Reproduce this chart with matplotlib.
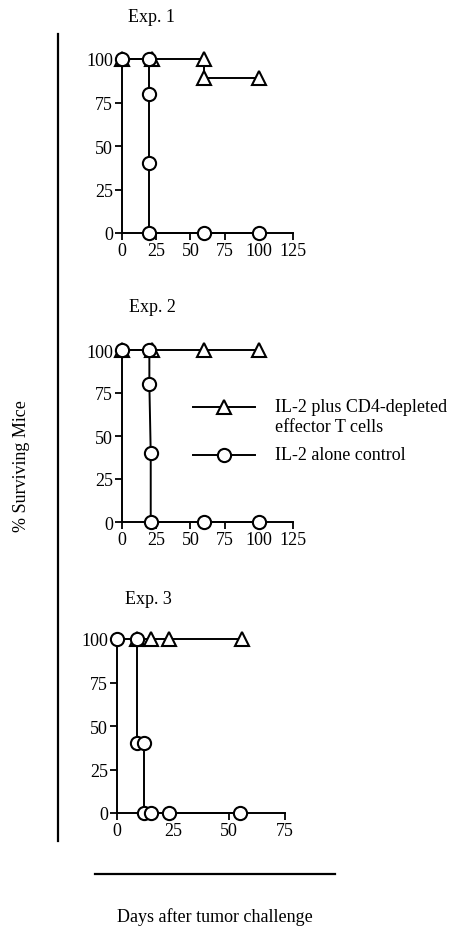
import matplotlib
matplotlib.use("Agg")
import matplotlib.pyplot as plt
from matplotlib.lines import Line2D

plt.rcParams["font.family"] = ["Liberation Serif", "DejaVu Serif"]
plt.rcParams["font.size"] = 13

# ---- data (days, % surviving) ----
exp1_tri_x = [0, 22, 60, 60, 100]
exp1_tri_y = [100, 100, 100, 89, 89]
exp1_cir_x = [0, 20, 20, 20, 20, 60, 100]
exp1_cir_y = [100, 100, 80, 40, 0, 0, 0]

exp2_tri_x = [0, 22, 60, 100]
exp2_tri_y = [100, 100, 100, 100]
exp2_cir_x = [0, 20, 20, 21, 21, 60, 100]
exp2_cir_y = [100, 100, 80, 40, 0, 0, 0]

exp3_tri_x = [9, 15, 23, 56]
exp3_tri_y = [100, 100, 100, 100]
exp3_cir_x = [0, 9, 9, 12, 12, 15, 23, 55]
exp3_cir_y = [100, 100, 40, 40, 0, 0, 0, 0]

exp1_xticks = [0, 25, 50, 75, 100, 125]
exp3_xticks = [0, 25, 50, 75]
y_ticks = [0, 25, 50, 75, 100]

W, H = 463, 928
fig = plt.figure(figsize=(W / 100, H / 100), dpi=100)


def px_axes(x0, x1, ytop, ybot):
    return fig.add_axes([x0 / W, 1 - ybot / H, (x1 - x0) / W, (ybot - ytop) / H])


mk = dict(color="black", lw=1.4, markersize=9.5, markerfacecolor="white",
          markeredgecolor="black", markeredgewidth=1.5, clip_on=False)


def panel(ax, tri, cir, xmax, xticks):
    # triangle series drawn first, circles on top
    ax.plot(tri[0], tri[1], marker="^", zorder=3, **mk)
    ax.plot(cir[0], cir[1], marker="o", zorder=4, **mk)
    ax.set_xlim(0, xmax)
    ax.set_ylim(0, 100)
    ax.set_xticks(xticks)
    ax.set_yticks(y_ticks)
    for s in ["top", "right"]:
        ax.spines[s].set_visible(False)
    for s in ["left", "bottom"]:
        ax.spines[s].set_linewidth(1.4)
    ax.tick_params(direction="out", length=5, width=1.3, labelsize=13, pad=1.5)


ax1 = px_axes(122, 293, 60, 234)
panel(ax1, (exp1_tri_x, exp1_tri_y), (exp1_cir_x, exp1_cir_y), 125, exp1_xticks)
ax2 = px_axes(122, 293, 351, 523)
panel(ax2, (exp2_tri_x, exp2_tri_y), (exp2_cir_x, exp2_cir_y), 125, exp1_xticks)
ax3 = px_axes(117, 285, 640, 814)
panel(ax3, (exp3_tri_x, exp3_tri_y), (exp3_cir_x, exp3_cir_y), 75, exp3_xticks)

# panel titles
fig.text(152 / W, 1 - 17 / H, "Exp. 1", ha="center", va="center")
fig.text(152 / W, 1 - 308 / H, "Exp. 2", ha="center", va="center")
fig.text(148 / W, 1 - 599 / H, "Exp. 3", ha="center", va="center")

# legend (drawn manually in figure coords)
leg = [("^", "IL-2 plus CD4-depleted\neffector T cells", 408),
       ("o", "IL-2 alone control", 456)]
for m, label, yy in leg:
    fig.add_artist(Line2D([193 / W, 255 / W], [1 - yy / H, 1 - yy / H],
                          color="black", lw=1.4, transform=fig.transFigure))
    fig.add_artist(Line2D([224 / W], [1 - yy / H], marker=m, markersize=9.5,
                          markerfacecolor="white", markeredgecolor="black",
                          markeredgewidth=1.5, transform=fig.transFigure))
    fig.text(275 / W, 1 - (yy - 9) / H, label, ha="left", va="top",
             linespacing=1.25)

# shared y label + bracket line
fig.add_artist(Line2D([58 / W, 58 / W], [1 - 35 / H, 1 - 842 / H],
                      color="black", lw=1.6, transform=fig.transFigure))
fig.text(22 / W, 1 - 466 / H, "% Surviving Mice", rotation=90,
         ha="center", va="center")

# shared x label + rule
fig.add_artist(Line2D([95 / W, 335 / W], [1 - 875 / H, 1 - 875 / H],
                      color="black", lw=1.6, transform=fig.transFigure))
fig.text(215 / W, 1 - 917 / H, "Days after tumor challenge",
         ha="center", va="center")

fig.savefig("out.png", dpi=100)
